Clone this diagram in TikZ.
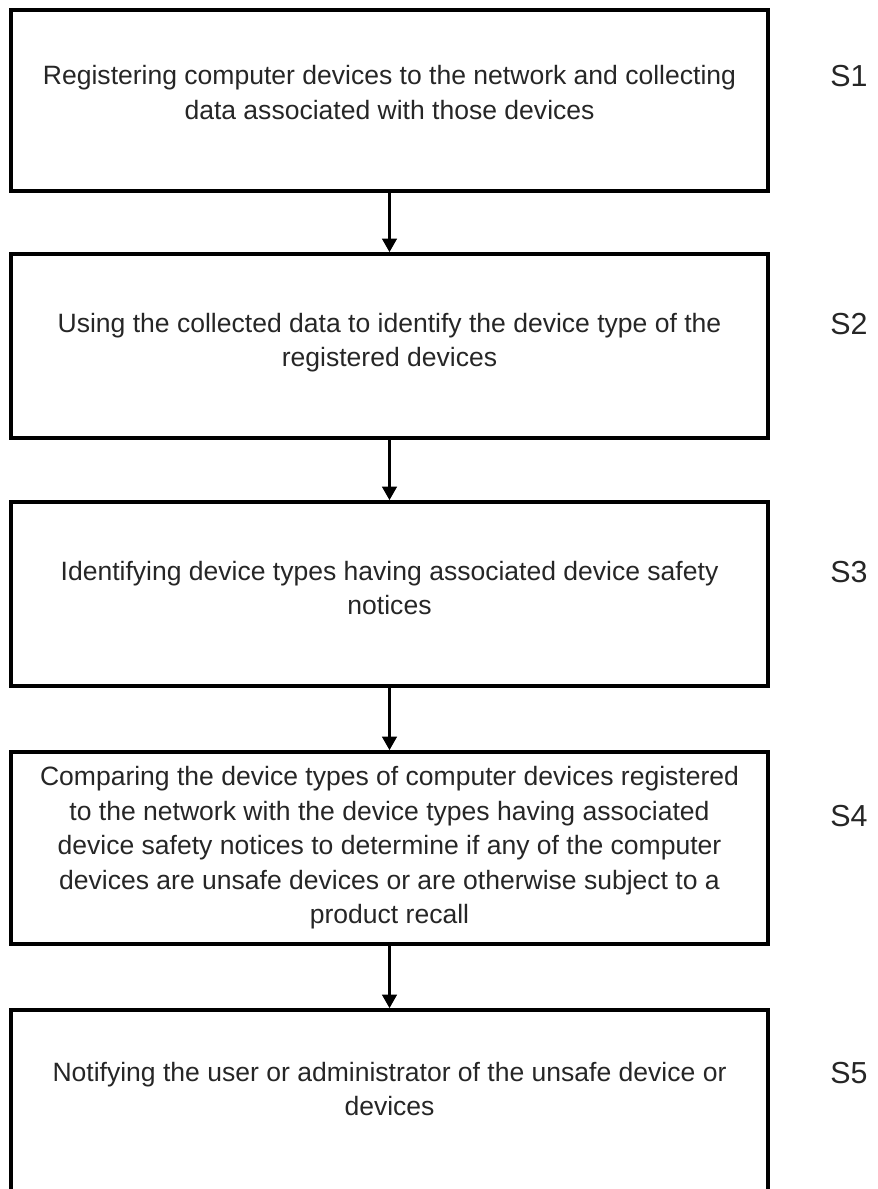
\documentclass[tikz,border=0pt]{standalone}
\usepackage{fontspec}
\setmainfont{Liberation Sans}
\usepackage{xcolor}
\usepackage{tikz}
\usetikzlibrary{arrows.meta, positioning}

\begin{document}
\begin{tikzpicture}[x=0.02cm, y=-0.02cm,
    stepbox/.style={draw=black, line width=2.1pt, rectangle, align=center,
        minimum width=15.14cm, inner sep=0pt, text=black!85,
        font=\fontsize{15.1}{19.6}\selectfont},
    steplabel/.style={text=black!85, font=\fontsize{17.3}{19}\selectfont},
    flow/.style={-{Triangle[length=0.27cm, width=0.29cm]}, line width=1.5pt}]
    \useasboundingbox (0,0) rectangle (877,1189);
    % process steps
    \node[stepbox, minimum height=3.62cm, text depth=0.32cm] (register) at (389.5,100.5)
        {Registering computer devices to the network and collecting\\
         data associated with those devices};
    \node[stepbox, minimum height=3.68cm, text depth=0.24cm] (identify) at (389.5,346)
        {Using the collected data to identify the device type of the\\
         registered devices};
    \node[stepbox, minimum height=3.68cm, text depth=0.24cm] (notices) at (389.5,594)
        {Identifying device types having associated device safety\\
         notices};
    \node[stepbox, minimum height=3.84cm] (compare) at (389.5,848)
        {Comparing the device types of computer devices registered\\
         to the network with the device types having associated\\
         device safety notices to determine if any of the computer\\
         devices are unsafe devices or are otherwise subject to a\\
         product recall};
    \node[stepbox, minimum height=3.68cm, text depth=0.52cm] (notify) at (389.5,1102)
        {Notifying the user or administrator of the unsafe device or\\
         devices};
    % step labels
    \node[steplabel] (s1) at (849,76) {S1};
    \node[steplabel] (s2) at (849,324) {S2};
    \node[steplabel] (s3) at (849,572) {S3};
    \node[steplabel] (s4) at (849,816) {S4};
    \node[steplabel] (s5) at (849,1073) {S5};
    % arrows between steps
    \draw[flow] (register) -- (identify);
    \draw[flow] (identify) -- (notices);
    \draw[flow] (notices) -- (compare);
    \draw[flow] (compare) -- (notify);
\end{tikzpicture}
\end{document}
